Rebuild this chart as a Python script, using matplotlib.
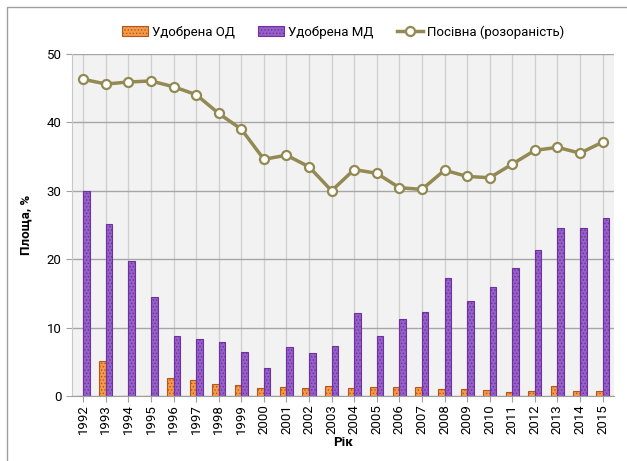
import numpy as np
import matplotlib
matplotlib.use("Agg")
import matplotlib.pyplot as plt
from matplotlib.patches import Rectangle

plt.rcParams['font.family'] = ['Roboto', 'DejaVu Sans']
plt.rcParams['hatch.linewidth'] = 0.6

# data
years = [str(y) for y in range(1992, 2016)]
od = [0, 5.1, 0, 0, 2.7, 2.4, 1.75, 1.6, 1.2, 1.3, 1.2, 1.45,
      1.2, 1.3, 1.3, 1.3, 0.95, 0.95, 0.85, 0.6, 0.75, 1.45, 0.8, 0.8]
md = [29.9, 25.2, 19.7, 14.4, 8.8, 8.4, 7.95, 6.4, 4.05, 7.15, 6.3, 7.25,
      12.1, 8.8, 11.3, 12.3, 17.25, 13.9, 15.9, 18.7, 21.3, 24.5, 24.6, 26.0]
posivna = [46.3, 45.6, 45.9, 46.05, 45.2, 44.05, 41.3, 39.0, 34.6, 35.2, 33.5, 30.0,
           33.1, 32.55, 30.45, 30.2, 33.0, 32.1, 31.9, 33.9, 35.9, 36.35, 35.5, 37.1]

x = np.arange(len(years))
w = 0.29

fig = plt.figure(figsize=(6.27, 4.61), dpi=100)
ax = fig.add_axes([0.1148, 0.141, 0.8642, 0.742])
ax.set_facecolor('#F2F2F2')

# grey frame round the chart
fig.patches.append(Rectangle((0.011, -0.01), 1.0, 0.995, transform=fig.transFigure,
                             fill=False, edgecolor='#A0A0A0', linewidth=1.0))

b1 = ax.bar(x - w / 2, od, width=w, color='#F59A4A', edgecolor='#B5561B', hatch='.....',
            linewidth=0.8, label='Удобрена ОД', zorder=3)
b2 = ax.bar(x + w / 2, md, width=w, color='#9560C8', edgecolor='#7030A0', hatch='.....',
            linewidth=0.8, label='Удобрена МД', zorder=3)
ln, = ax.plot(x, posivna, color='#938953', linewidth=2.5, marker='o', markersize=6.5,
              markerfacecolor='white', markeredgecolor='#938953', markeredgewidth=1.6,
              label='Посівна (розораність)', zorder=4)

ax.set_xlim(-0.5, len(years) - 0.5)
ax.set_ylim(0, 50)
ax.set_yticks(range(0, 51, 10))
ax.set_xticks(x)
ax.set_xticklabels(years, rotation=90, fontsize=9.5)
ax.tick_params(axis='y', labelsize=9.5, color='#A0A0A0', length=4)
ax.tick_params(axis='x', color='#A0A0A0', length=4, pad=2)

ax.grid(axis='y', color='#A6A6A6', linewidth=1.0, zorder=0)
ax.grid(axis='x', color='#D0D0D0', linewidth=1.0, zorder=0)
ax.set_axisbelow(True)
for s in ['top', 'right']:
    ax.spines[s].set_visible(False)
ax.spines['left'].set_color('#C8C8C8')
ax.spines['bottom'].set_color('#A0A0A0')

ax.set_ylabel('Площа, %', fontsize=9.5, fontweight='bold', labelpad=10)
ax.set_xlabel('Рік', fontsize=9.5, fontweight='bold', labelpad=1)

ax.legend([b1, b2, ln], ['Удобрена ОД', 'Удобрена МД', 'Посівна (розораність)'],
          loc='lower center', bbox_to_anchor=(0.5, 1.01), ncol=3, frameon=False,
          fontsize=9.5, handlelength=2.0, handletextpad=0.3, columnspacing=1.75)

plt.savefig('out.png', dpi=100)
